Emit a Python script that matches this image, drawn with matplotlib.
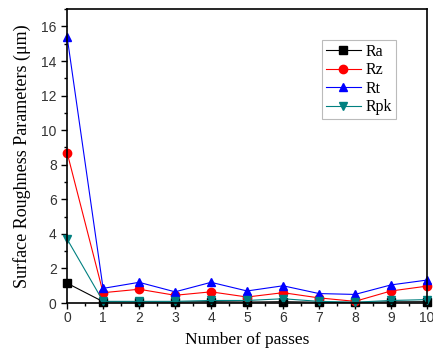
import matplotlib
matplotlib.use("Agg")
import matplotlib.pyplot as plt
from matplotlib.ticker import MultipleLocator

passes = list(range(11))
ra = [1.15, 0.08, 0.07, 0.06, 0.08, 0.06, 0.08, 0.05, 0.04, 0.07, 0.08]
rz = [8.7, 0.6, 0.8, 0.45, 0.65, 0.35, 0.6, 0.3, 0.1, 0.7, 0.98]
rt = [15.4, 0.85, 1.2, 0.65, 1.2, 0.7, 1.0, 0.55, 0.5, 1.05, 1.33]
rpk = [3.7, 0.1, 0.1, 0.1, 0.15, 0.15, 0.25, 0.1, 0.05, 0.15, 0.2]

series = [("Ra", ra, "black", "s"),
          ("Rz", rz, "red", "o"),
          ("Rt", rt, "blue", "^"),
          ("Rpk", rpk, "#008080", "v")]

fig = plt.figure(figsize=(4.33, 3.52), dpi=100)
ax = fig.add_axes([0.155, 0.139, 0.831, 0.835])

for name, vals, col, mk in series:
    ax.plot(passes, vals, color=col, lw=0.8, marker=mk, ms=6,
            markerfacecolor=col, markeredgecolor=col, label=name, clip_on=False)

ax.set_xlim(0, 10)
ax.set_ylim(0, 17)
ax.set_xticks(passes)
ax.set_yticks(range(0, 17, 2))
ax.xaxis.set_minor_locator(MultipleLocator(0.5))
ax.yaxis.set_minor_locator(MultipleLocator(1))
ax.tick_params(which="both", direction="out", top=False, right=False,
               labelsize=10, width=1)
ax.tick_params(which="major", length=4)
ax.tick_params(which="minor", length=2.5)
ax.tick_params(axis="x", pad=2)
for lab in ax.get_xticklabels() + ax.get_yticklabels():
    lab.set_family("Liberation Sans")
    lab.set_color("#333333")
for sp in ax.spines.values():
    sp.set_linewidth(1.2)

ax.set_xlabel("Number of passes", family="Liberation Serif", fontsize=12.5, labelpad=5)
ax.set_ylabel("Surface Roughness Parameters (\u03bcm)", family="Liberation Serif",
              fontsize=13, labelpad=7)

leg = ax.legend(loc="upper left", bbox_to_anchor=(0.708, 0.895), frameon=True,
                borderaxespad=0, fancybox=False, edgecolor="#aaaaaa",
                handlelength=2.2, handletextpad=0.3, borderpad=0.25,
                labelspacing=0.15,
                prop={"family": "Liberation Serif", "size": 11.5})
leg.get_frame().set_linewidth(0.8)

fig.savefig("out.png", dpi=100)
